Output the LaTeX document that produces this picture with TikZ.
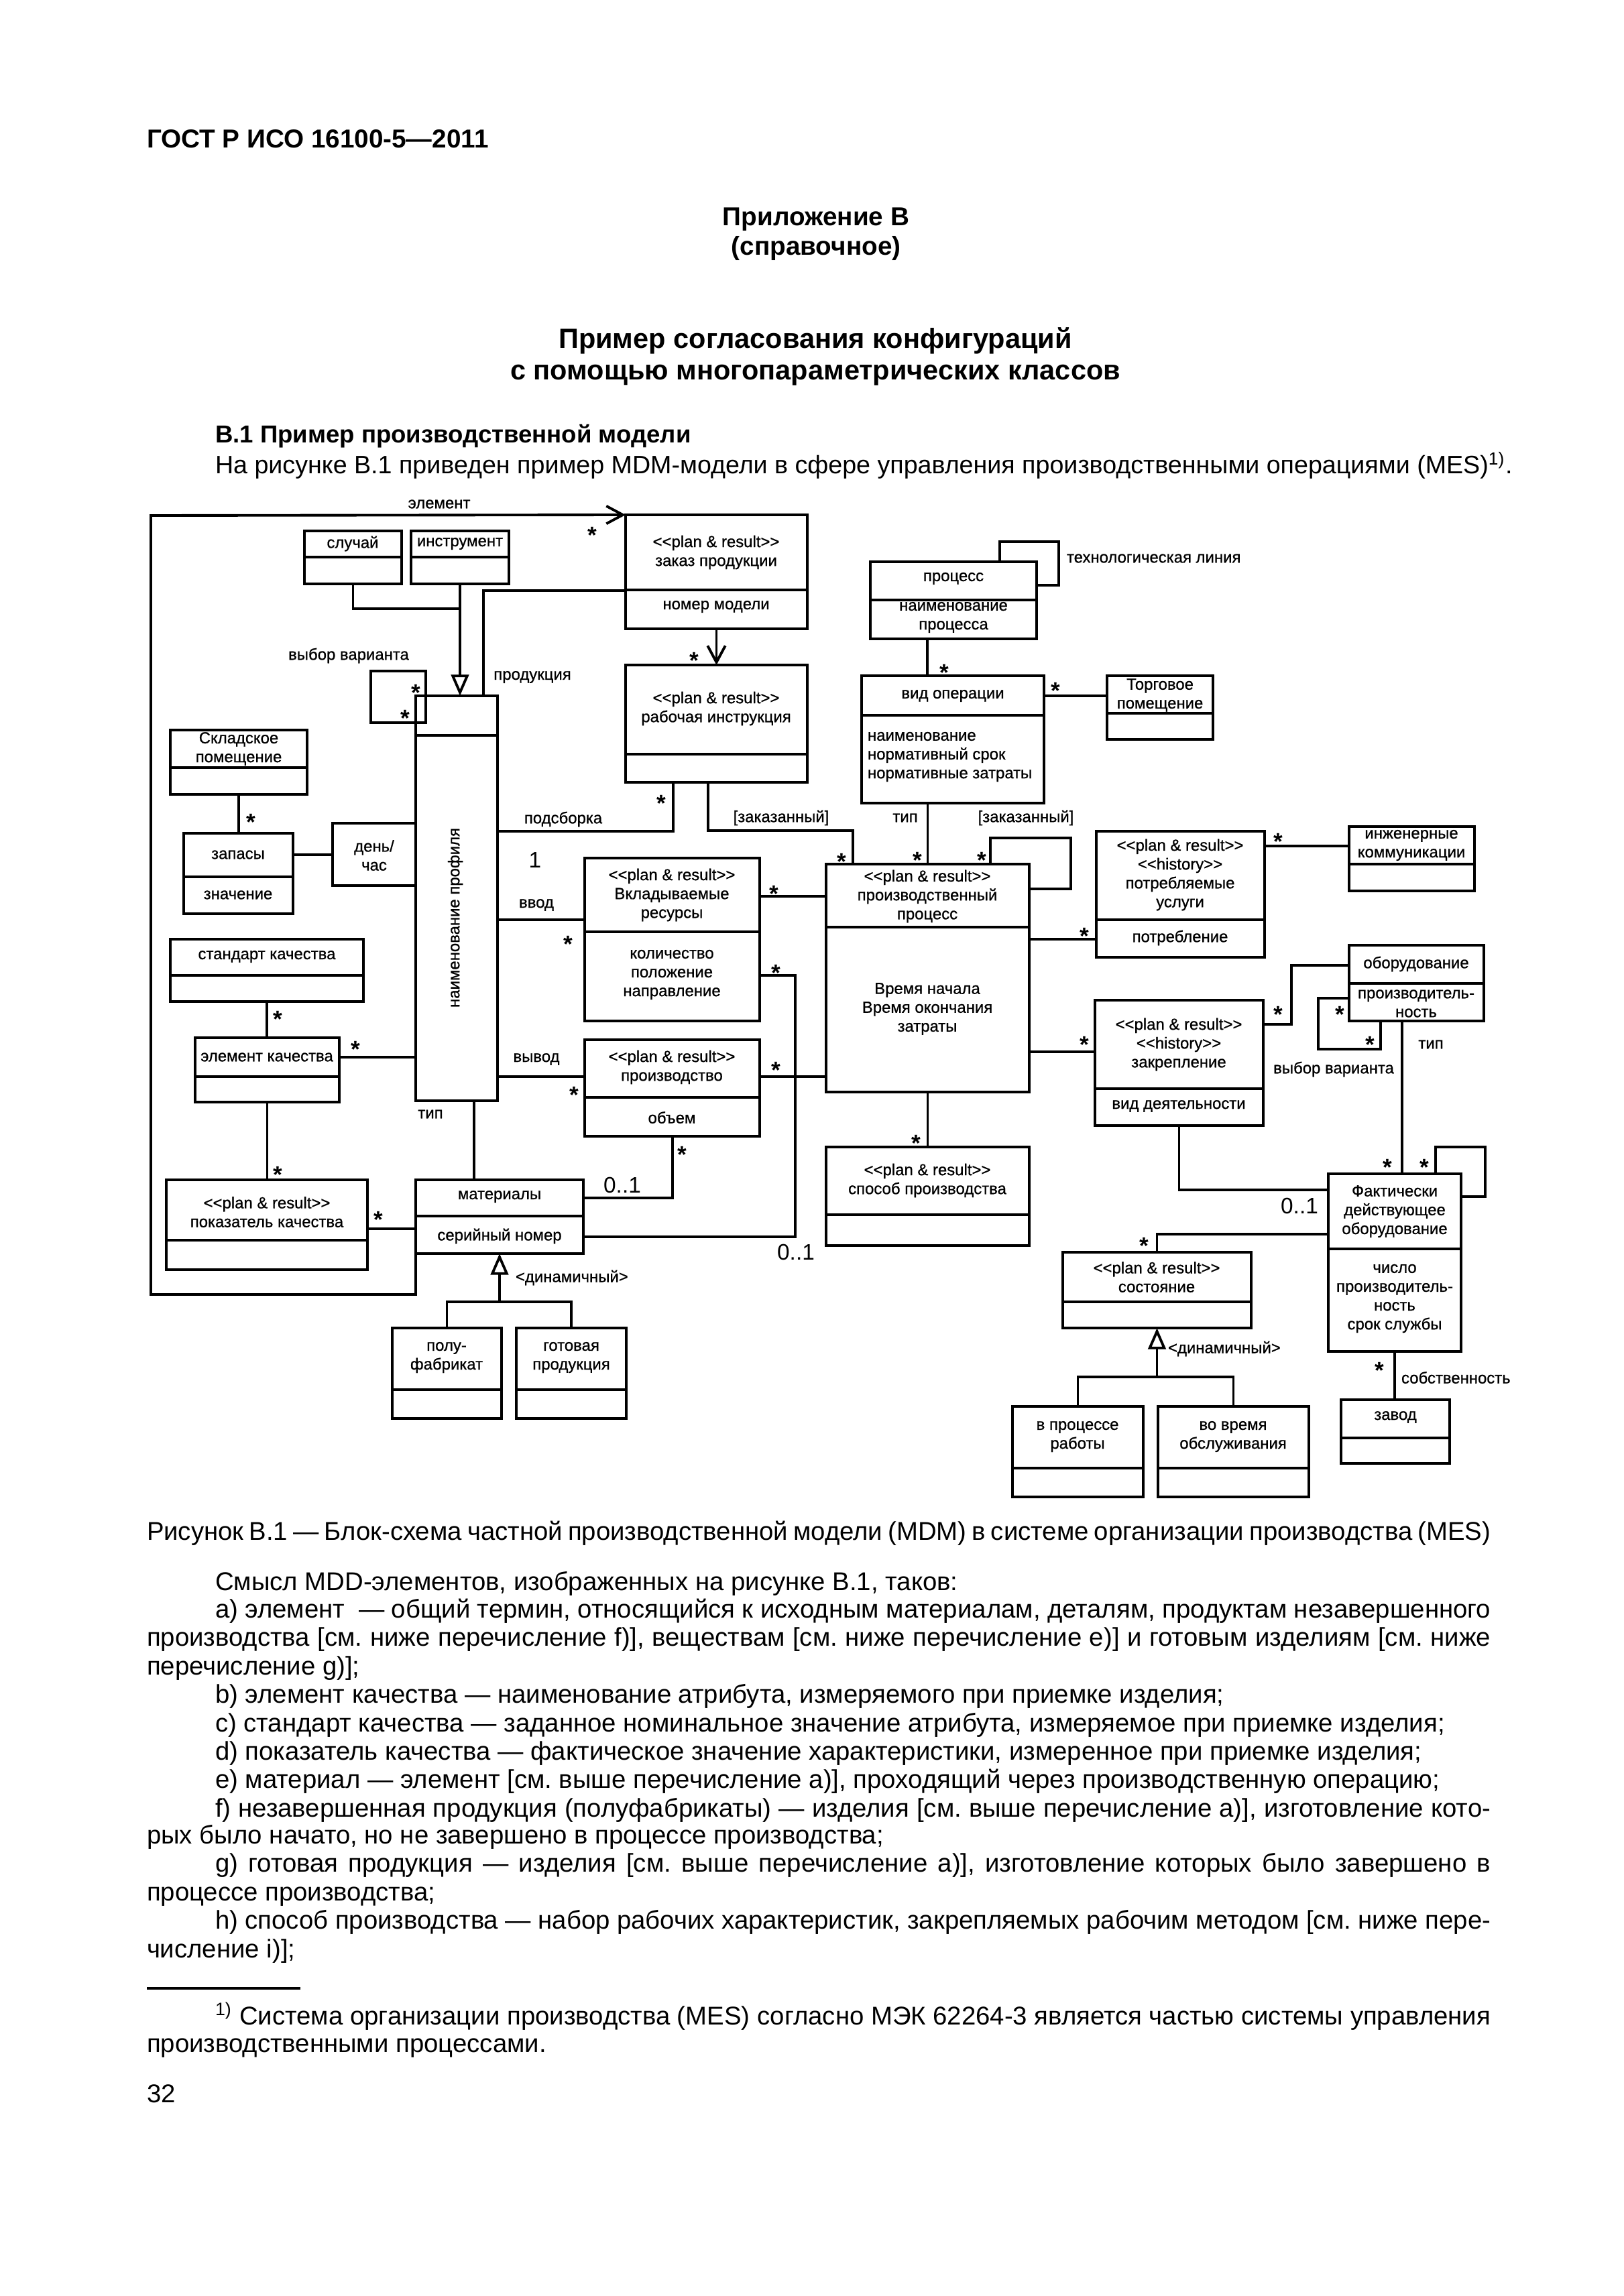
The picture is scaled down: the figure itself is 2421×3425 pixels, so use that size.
\documentclass[tikz,border=0pt]{standalone}
\usepackage{fontspec}
\setmainfont{Liberation Sans}
\newfontfamily\diagfont[FakeBold=0.8]{Liberation Sans}
\usetikzlibrary{arrows.meta, positioning, fit}
\frenchspacing

\newcommand{\stereo}[1]{<{}<#1>{}>}

\begin{document}
\begin{tikzpicture}[
    x=0.01cm, y=-0.01cm,
    line width=1.1pt,
    every node/.style={inner sep=0pt, outer sep=0pt},
    % --- diagram styles ---
    cls/.style={draw, line width=1.1pt, inner sep=0pt, outer sep=0pt},
    ctxt/.style={align=center, font=\diagfont\fontsize{6.8}{8}\selectfont},
    ltxt/.style={align=left, font=\diagfont\fontsize{6.8}{8}\selectfont},
    mult/.style={font=\fontsize{10}{10}\selectfont\bfseries,
                 text height=3pt, text depth=0pt, yshift=-4.3pt},
    card/.style={font=\fontsize{9.5}{10}\selectfont},
    gen/.style={-{Triangle[open, length=9pt, width=7.5pt, line width=1.1pt]}},
    nav/.style={-{Straight Barb[length=7pt, width=7.5pt, line width=1.1pt]}},
    % --- page text styles ---
    pghead/.style={font=\fontsize{11}{13}\selectfont\bfseries, anchor=base},
    pgtitle/.style={font=\fontsize{11.8}{14}\selectfont\bfseries, anchor=base},
    pgtxt/.style={font=\fontsize{10.9}{12}\selectfont, anchor=base west},
]

\path[fill=white, use as bounding box] (0,0) rectangle (2421,3425);

% ===== PAGE HEAD ============================================================
\node[pghead, anchor=base west] (gost) at (219,221) {ГОСТ Р ИСО 16100-5—2011};
\node[pghead] (app) at (1217,337) {Приложение В};
\node[pghead] (appk) at (1217,381) {(справочное)};
\node[pgtitle] (tit1) at (1216,520) {Пример согласования конфигураций};
\node[pgtitle] (tit2) at (1216,567) {с помощью многопараметрических классов};
\node[pghead, anchor=base west, font=\fontsize{10.4}{12}\selectfont\bfseries] (sec) at (321,661)
    {В.1 Пример производственной модели};
\node[pgtxt, font=\fontsize{10.7}{12}\selectfont] (intro) at (321,707)
    {На рисунке В.1 приведен пример MDM-модели в сфере управления производственными операциями (MES)\textsuperscript{1)}.};

% ===== CLASSES ==============================================================
% -- top row --
\node[cls, fit={(454,792) (599,871)}] (sluch) {};
\draw (sluch.west |- 0,831) -- (sluch.east |- 0,831);
\node[ctxt] (sluch-t) at (526,811) {случай};

\node[cls, fit={(613,792) (759,871)}] (instr) {};
\draw (instr.west |- 0,831) -- (instr.east |- 0,831);
\node[ctxt] (instr-t) at (686,811) {инструмент};

\node[cls, fit={(933,768) (1204,938)}] (zakaz) {};
\draw (zakaz.west |- 0,880) -- (zakaz.east |- 0,880);
\node[ctxt] (zakaz-t) at (1068,824) {\stereo{plan \& result}\\заказ продукции};
\node[ctxt] (zakaz-a) at (1068,905) {номер модели};

\node[cls, fit={(933,992) (1204,1167)}] (rabinstr) {};
\draw (rabinstr.west |- 0,1125) -- (rabinstr.east |- 0,1125);
\node[ctxt] (rabinstr-t) at (1068,1057) {\stereo{plan \& result}\\рабочая инструкция};

\node[cls, fit={(1298,838) (1546,953)}] (process) {};
\draw (process.west |- 0,895) -- (process.east |- 0,895);
\node[ctxt] (process-t) at (1422,863) {процесс};
\node[ctxt] (process-a) at (1422,921) {наименование\\процесса};

\node[cls, fit={(1285,1008) (1557,1198)}] (vidop) {};
\draw (vidop.west |- 0,1067) -- (vidop.east |- 0,1067);
\node[ctxt] (vidop-t) at (1421,1038) {вид операции};
\node[ltxt, anchor=west] (vidop-a) at (1294,1129)
    {наименование\\нормативный срок\\нормативные затраты};

\node[cls, fit={(1651,1008) (1809,1103)}] (torg) {};
\draw (torg.west |- 0,1064) -- (torg.east |- 0,1064);
\node[ctxt] (torg-t) at (1730,1037) {Торговое\\помещение};

% -- left column --
\node[cls, fit={(254,1089) (458,1185)}] (sklad) {};
\draw (sklad.west |- 0,1145) -- (sklad.east |- 0,1145);
\node[ctxt] (sklad-t) at (356,1117) {Складское\\помещение};

\node[cls, fit={(274,1243) (437,1363)}] (zapasy) {};
\draw (zapasy.west |- 0,1308) -- (zapasy.east |- 0,1308);
\node[ctxt] (zapasy-t) at (355,1275) {запасы};
\node[ctxt] (zapasy-a) at (355,1335) {значение};

\node[cls, fit={(496,1228) (620,1321)}] (denchas) {};
\node[ctxt] (denchas-t) at (558,1276) {день/\\час};

\node[cls, fit={(254,1401) (542,1494)}] (standart) {};
\draw (standart.west |- 0,1455) -- (standart.east |- 0,1455);
\node[ctxt] (standart-t) at (398,1427) {стандарт качества};

\node[cls, fit={(291,1548) (506,1644)}] (element) {};
\draw (element.west |- 0,1606) -- (element.east |- 0,1606);
\node[ctxt] (element-t) at (398,1577) {элемент качества};

\node[cls, fit={(248,1760) (548,1894)}] (pokaz) {};
\draw (pokaz.west |- 0,1850) -- (pokaz.east |- 0,1850);
\node[ctxt] (pokaz-t) at (398,1808) {\stereo{plan \& result}\\показатель качества};

% -- profile --
\node[cls, fit={(620,1038) (742,1642)}] (profile) {};
\draw (profile.west |- 0,1097) -- (profile.east |- 0,1097);
\node[ctxt, rotate=90] (profile-t) at (679,1369) {наименование профиля};

% -- materials --
\node[cls, fit={(620,1760) (870,1870)}] (mater) {};
\draw (mater.west |- 0,1814) -- (mater.east |- 0,1814);
\node[ctxt] (mater-t) at (745,1785) {материалы};
\node[ctxt] (mater-a) at (745,1844) {серийный номер};

\node[cls, fit={(585,1981) (748,2116)}] (polu) {};
\draw (polu.west |- 0,2073) -- (polu.east |- 0,2073);
\node[ctxt] (polu-t) at (666,2025) {полу-\\фабрикат};

\node[cls, fit={(770,1981) (934,2116)}] (gotov) {};
\draw (gotov.west |- 0,2073) -- (gotov.east |- 0,2073);
\node[ctxt] (gotov-t) at (852,2025) {готовая\\продукция};

% -- resources / production --
\node[cls, fit={(872,1280) (1133,1523)}] (vklad) {};
\draw (vklad.west |- 0,1390) -- (vklad.east |- 0,1390);
\node[ctxt] (vklad-t) at (1002,1335) {\stereo{plan \& result}\\Вкладываемые\\ресурсы};
\node[ctxt] (vklad-a) at (1002,1454) {количество\\положение\\направление};

\node[cls, fit={(872,1551) (1133,1695)}] (proizv) {};
\draw (proizv.west |- 0,1637) -- (proizv.east |- 0,1637);
\node[ctxt] (proizv-t) at (1002,1592) {\stereo{plan \& result}\\производство};
\node[ctxt] (proizv-a) at (1002,1667) {объем};

\node[cls, fit={(1232,1289) (1535,1629)}] (pprocess) {};
\draw (pprocess.west |- 0,1383) -- (pprocess.east |- 0,1383);
\node[ctxt] (pprocess-t) at (1383,1337) {\stereo{plan \& result}\\производственный\\процесс};
\node[ctxt] (pprocess-a) at (1383,1505) {Время начала\\Время окончания\\затраты};

\node[cls, fit={(1232,1711) (1535,1858)}] (sposob) {};
\draw (sposob.west |- 0,1812) -- (sposob.east |- 0,1812);
\node[ctxt] (sposob-t) at (1383,1761) {\stereo{plan \& result}\\способ производства};

% -- right column --
\node[cls, fit={(1635,1240) (1886,1428)}] (potr) {};
\draw (potr.west |- 0,1372) -- (potr.east |- 0,1372);
\node[ctxt] (potr-t) at (1760,1305)
    {\stereo{plan \& result}\\\stereo{history}\\потребляемые\\услуги};
\node[ctxt] (potr-a) at (1760,1399) {потребление};

\node[cls, fit={(2012,1233) (2199,1329)}] (inzh) {};
\draw (inzh.west |- 0,1289) -- (inzh.east |- 0,1289);
\node[ctxt] (inzh-t) at (2105,1261) {инженерные\\коммуникации};

\node[cls, fit={(2012,1410) (2213,1523)}] (oborud) {};
\draw (oborud.west |- 0,1467) -- (oborud.east |- 0,1467);
\node[ctxt] (oborud-t) at (2112,1438) {оборудование};
\node[ctxt] (oborud-a) at (2112,1497) {производитель-\\ность};

\node[cls, fit={(1633,1492) (1884,1679)}] (zakrep) {};
\draw (zakrep.west |- 0,1624) -- (zakrep.east |- 0,1624);
\node[ctxt] (zakrep-t) at (1758,1558) {\stereo{plan \& result}\\\stereo{history}\\закрепление};
\node[ctxt] (zakrep-a) at (1758,1650) {вид деятельности};

\node[cls, fit={(1981,1751) (2179,2016)}] (fakt) {};
\draw (fakt.west |- 0,1863) -- (fakt.east |- 0,1863);
\node[ctxt] (fakt-t) at (2080,1807) {Фактически\\действующее\\оборудование};
\node[ctxt] (fakt-a) at (2080,1937) {число\\производитель-\\ность\\срок службы};

\node[cls, fit={(1585,1868) (1866,1981)}] (sost) {};
\draw (sost.west |- 0,1942) -- (sost.east |- 0,1942);
\node[ctxt] (sost-t) at (1725,1905) {\stereo{plan \& result}\\состояние};

\node[cls, fit={(1510,2098) (1705,2233)}] (vprocesse) {};
\draw (vprocesse.west |- 0,2190) -- (vprocesse.east |- 0,2190);
\node[ctxt] (vprocesse-t) at (1607,2143) {в процессе\\работы};

\node[cls, fit={(1727,2098) (1952,2233)}] (vovremya) {};
\draw (vovremya.west |- 0,2190) -- (vovremya.east |- 0,2190);
\node[ctxt] (vovremya-t) at (1839,2143) {во время\\обслуживания};

\node[cls, fit={(2000,2088) (2162,2183)}] (zavod) {};
\draw (zavod.west |- 0,2145) -- (zavod.east |- 0,2145);
\node[ctxt] (zavod-t) at (2081,2114) {завод};

% ===== CONNECTORS ===========================================================
\draw (sluch.south) |- (instr.south |- 0,908);
\draw[gen] (instr.south) -- (instr.south |- profile.north);
\draw (profile.north -| 721,0) |- (zakaz.west |- 0,881);
\draw[nav] (mater.south west) -- ++(0,61) -| (225,769) -- (zakaz.north west);
\draw[nav] (zakaz.south) -- (rabinstr.north);
\draw (profile.north -| 635,0) |- (553,1001) |- (635,1078) -- (profile.north -| 635,0);

\draw (sklad.south) -- (sklad.south |- zapasy.north);
\draw (zapasy.east |- 0,1275) -- (denchas.west |- 0,1275);
\draw (standart.south) -- (standart.south |- element.north);
\draw (element.south) -- (element.south |- pokaz.north);
\draw (element.east |- 0,1577) -- (profile.west |- 0,1577);
\draw (pokaz.east |- 0,1833) -- (mater.west |- 0,1833);
\draw (profile.south -| 707,0) -- (mater.north -| 707,0);

\draw (profile.east |- 0,1240) -| (rabinstr.south -| 1004,0);
\draw (rabinstr.south -| 1056,0) -- ++(0,72) -| (pprocess.north -| 1272,0);
\draw (profile.east |- 0,1372) -- (vklad.west |- 0,1372);
\draw (profile.east |- 0,1606) -- (proizv.west |- 0,1606);
\draw (vklad.east |- 0,1337) -- (pprocess.west |- 0,1337);
\draw (proizv.east |- 0,1606) -- (pprocess.west |- 0,1606);
\draw (vklad.east |- 0,1455) -| (1186,1845) -- (mater.east |- 0,1845);
\draw (proizv.south -| 1003,0) |- (mater.east |- 0,1787);

\draw (process.south -| 1383,0) -- (vidop.north -| 1383,0);
\draw (process.north -| 1491,0) |- (1579,808) |- (process.east |- 0,873);
\draw (vidop.east |- 0,1038) -- (torg.west |- 0,1038);
\draw (vidop.south -| pprocess.north) -- (pprocess.north);
\draw (pprocess.north -| 1477,0) |- (1597,1250) |- (pprocess.east |- 0,1326);
\draw (pprocess.east |- 0,1401) -- (potr.west |- 0,1401);
\draw (pprocess.east |- 0,1569) -- (zakrep.west |- 0,1569);
\draw (potr.east |- 0,1262) -- (inzh.west |- 0,1262);
\draw (pprocess.south) -- (sposob.north);

\draw (zakrep.east |- 0,1528) -| (1926,1440) -- (oborud.west |- 0,1440);
\draw (oborud.west |- 0,1489) -| (1966,1565) -| (oborud.south -| 2059,0);
\draw (oborud.south -| 2091,0) -- (fakt.north -| 2091,0);
\draw (zakrep.south) |- (fakt.west |- 0,1775);
\draw (fakt.north -| 2141,0) |- (2215,1711) |- (fakt.east |- 0,1785);
\draw (fakt.west |- 0,1841) -| (sost.north);
\draw (fakt.south) -- (fakt.south |- zavod.north);

\draw (polu.north) -- ++(0,-39) -| (gotov.north);
\draw[gen] (mater.south |- 0,1942) -- (mater.south);
\draw (vprocesse.north) -- ++(0,-44) -| (vovremya.north);
\draw[gen] (sost.south |- 0,2054) -- (sost.south);

% -- multiplicities --
\foreach \sx/\sy [count=\i] in {883/790, 1035/977, 1408/995, 1574/1022, 620/1025,
    604/1063, 374/1218, 986/1190, 1255/1277, 1368/1275, 1464/1275, 1906/1247,
    1154/1325, 847/1400, 1617/1388, 1157/1443, 1906/1505, 1998/1505, 2043/1550,
    1617/1550, 414/1512, 530/1557, 1157/1588, 856/1625, 1366/1697, 1017/1714,
    414/1744, 564/1811, 2069/1733, 2124/1733, 1706/1850, 2057/2036}
    \node[mult] (m\i) at (\sx,\sy) {*};

\node[card] (c1) at (928,1768) {0..1};
\node[card] (c2) at (1187,1868) {0..1};
\node[card] (c3) at (1938,1799) {0..1};
\node[card] (one) at (798,1283) {1};

% -- role labels --
\node[ctxt] (l-elem) at (655,752) {элемент};
\node[ctxt] (l-vyb1) at (520,978) {выбор варианта};
\node[ctxt] (l-prod) at (794,1010) {продукция};
\node[ctxt] (l-podsb) at (840,1222) {подсборка};
\node[ctxt] (l-vvod) at (800,1350) {ввод};
\node[ctxt] (l-vyvod) at (800,1580) {вывод};
\node[ctxt] (l-tip1) at (642,1662) {тип};
\node[ctxt] (l-zak1) at (1165,1220) {[заказанный]};
\node[ctxt] (l-tip2) at (1350,1220) {тип};
\node[ctxt] (l-zak2) at (1530,1220) {[заказанный]};
\node[ctxt, anchor=west] (l-tech) at (1591,833) {технологическая линия};
\node[ctxt] (l-vyb2) at (1989,1595) {выбор варианта};
\node[ctxt] (l-tip3) at (2134,1558) {тип};
\node[ctxt, anchor=west] (l-dyn1) at (769,1906) {<динамичный>};
\node[ctxt, anchor=west] (l-dyn2) at (1742,2012) {<динамичный>};
\node[ctxt, anchor=west] (l-sobst) at (2090,2055) {собственность};

% ===== CAPTION AND TEXT =====================================================
\node[pgtxt] (capt) at (219,2297) {\makebox[20.03cm][s]{Рисунок В.1 — Блок-схема частной производственной модели (MDM) в системе организации производства (MES)}};

\node[pgtxt] (t1) at (321,2372) {Смысл MDD-элементов, изображенных на рисунке В.1, таков:};
\node[pgtxt] (t2) at (321,2413) {\makebox[19.01cm][s]{a) элемент \ — общий термин, относящийся к исходным материалам, деталям, продуктам незавершенного}};
\node[pgtxt] (t3) at (219,2455) {\makebox[20.03cm][s]{производства [см. ниже перечисление f)], веществам [см. ниже перечисление e)] и готовым изделиям [см. ниже}};
\node[pgtxt] (t4) at (219,2498) {перечисление g)];};
\node[pgtxt] (t5) at (321,2540) {b) элемент качества — наименование атрибута, измеряемого при приемке изделия;};
\node[pgtxt] (t6) at (321,2583) {c) стандарт качества — заданное номинальное значение атрибута, измеряемое при приемке изделия;};
\node[pgtxt] (t7) at (321,2625) {d) показатель качества — фактическое значение характеристики, измеренное при приемке изделия;};
\node[pgtxt] (t8) at (321,2667) {e) материал — элемент [см. выше перечисление a)], проходящий через производственную операцию;};
\node[pgtxt] (t9) at (321,2710) {\makebox[19.01cm][s]{f) незавершенная продукция (полуфабрикаты) — изделия [см. выше перечисление a)], изготовление кото-}};
\node[pgtxt] (t10) at (219,2750) {рых было начато, но не завершено в процессе производства;};
\node[pgtxt] (t11) at (321,2792) {\makebox[19.01cm][s]{g) готовая продукция — изделия [см. выше перечисление a)], изготовление которых было завершено в}};
\node[pgtxt] (t12) at (219,2835) {процессе производства;};
\node[pgtxt] (t13) at (321,2877) {\makebox[19.01cm][s]{h) способ производства — набор рабочих характеристик, закрепляемых рабочим методом [см. ниже пере-}};
\node[pgtxt] (t14) at (219,2920) {числение i)];};

% -- footnote --
\coordinate (fnrule) at (219,2966);
\draw[line width=1.3pt] (fnrule) -- ++(229,0);
\node[pgtxt] (fn1) at (321,3020) {\makebox[19.01cm][s]{\textsuperscript{1)} Система организации производства (MES) согласно МЭК 62264-3 является частью системы управления}};
\node[pgtxt] (fn2) at (219,3061) {производственными процессами.};
\node[pgtxt] (pgno) at (219,3136) {32};

\end{tikzpicture}
\end{document}
